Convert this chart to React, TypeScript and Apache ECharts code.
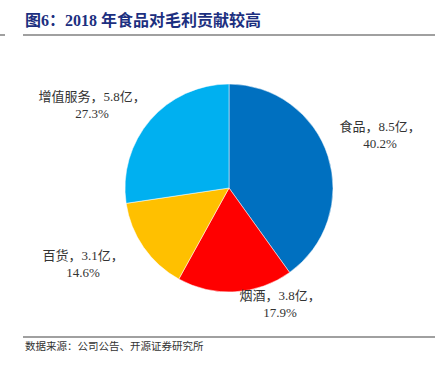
import React, { useEffect, useRef } from 'react';
import * as echarts from 'echarts';

const categories = ['食品', '烟酒', '百货', '增值服务'];
const values = [8.5, 3.8, 3.1, 5.8];
const percents = ['40.2%', '17.9%', '14.6%', '27.3%'];
const colors = ['#0070C0', '#FF0000', '#FFC000', '#00B0F0'];
const titleText = '图6：2018 年食品对毛利贡献较高';
const sourceText = '数据来源：公司公告、开源证券研究所';

// layout constants
const CX = 229;
const CY = 188;
const R = 104;
// label block centres, relative to the pie centre
const labelOffsets = [
  [151, -53],
  [51, 116],
  [-146, 76],
  [-137, -83],
];

const FONT = '"Liberation Serif", "Noto Sans CJK SC", serif';

export default function App() {
  const ref = useRef<HTMLDivElement>(null);
  useEffect(() => {
    if (!ref.current) return;
    const chart = echarts.init(ref.current, undefined, { renderer: 'svg' });
    const data = categories.map((name, i) => ({
      name,
      value: values[i],
      itemStyle: { color: colors[i] },
    }));
    chart.setOption({
      animation: false,
      graphic: [
        {
          type: 'text',
          left: 25,
          top: 12,
          style: {
            text: titleText,
            fontSize: 16,
            fontWeight: 'bold',
            fill: '#1c2f80',
            fontFamily: FONT,
          },
        },
        {
          type: 'line',
          shape: { x1: 23, y1: 35, x2: 435, y2: 35 },
          style: { stroke: '#808080', lineWidth: 1.5 },
        },
        {
          type: 'line',
          shape: { x1: 0, y1: 35, x2: 5, y2: 35 },
          style: { stroke: '#808080', lineWidth: 1.5 },
        },
        {
          type: 'line',
          shape: { x1: 23, y1: 337, x2: 435, y2: 337 },
          style: { stroke: '#808080', lineWidth: 1.5 },
        },
        {
          type: 'text',
          left: 25,
          top: 341,
          style: {
            text: sourceText,
            fontSize: 10.5,
            fill: '#333',
            fontFamily: FONT,
          },
        },
      ],
      series: [
        {
          type: 'pie',
          center: [CX, CY],
          radius: R,
          startAngle: 90,
          clockwise: true,
          data,
          itemStyle: { borderColor: '#ffffff', borderWidth: 0.5 },
          label: {
            show: true,
            position: 'outside',
            overflow: 'none',
            formatter: (p: any) =>
              `{a|${p.name}，${values[p.dataIndex]}亿，}\n{a|${percents[p.dataIndex]}}`,
            rich: {
              a: {
                align: 'center',
                fontSize: 13,
                lineHeight: 16.5,
                color: '#333333',
                fontFamily: FONT,
              },
            },
          },
          labelLine: { show: false },
          labelLayout: (p: any) => {
            const o = labelOffsets[p.dataIndex];
            return {
              x: CX + o[0],
              y: CY + o[1],
              align: 'center',
              verticalAlign: 'middle',
            };
          },
          emphasis: { disabled: true },
        },
      ],
    });
    return () => chart.dispose();
  }, []);
  return (
    <div
      ref={ref}
      style={{ position: 'absolute', left: 0, top: 0, width: 446, height: 368 }}
    />
  );
}
